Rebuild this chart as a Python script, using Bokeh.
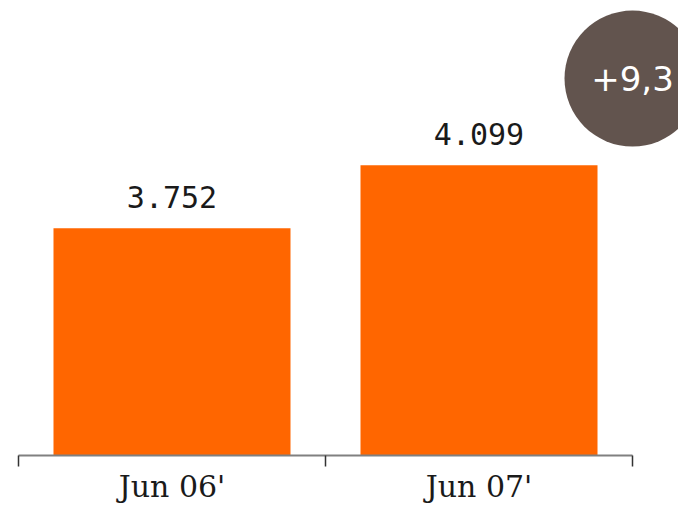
from bokeh.plotting import figure
from bokeh.models import Range1d, LinearAxis, FixedTicker
from bokeh.embed import file_html
from bokeh.resources import INLINE
from bokeh.core.properties import value

# ---- data ----
categories = ["Jun 06'", "Jun 07'"]
values = [3752, 4099]
value_labels = ["3.752", "4.099"]
change_label = "+9,3"

# ---- layout constants ----
Y0 = 2500
xs = [i + 0.5 for i in range(len(categories))]
bounds = list(range(len(categories) + 1))

p = figure(width=678, height=506,
           x_range=Range1d(-0.0586, 2.1498), y_range=Range1d(Y0, 5006),
           output_backend="svg", toolbar_location=None,
           x_axis_location=None, y_axis_location=None,
           min_border_left=0, min_border_right=0, min_border_top=0,
           min_border_bottom=51)
p.outline_line_color = None
p.xgrid.grid_line_color = None
p.ygrid.grid_line_color = None
p.background_fill_color = "white"
p.border_fill_color = "white"

# axis line with ticks at category boundaries
axis = LinearAxis(ticker=FixedTicker(ticks=bounds), bounds=(bounds[0], bounds[-1]),
                  major_label_overrides={b: "" for b in bounds},
                  major_label_text_font_size="0px", major_label_standoff=0,
                  major_tick_out=11, major_tick_in=0,
                  minor_tick_out=0, minor_tick_in=0,
                  axis_line_color="#808080", axis_line_width=2,
                  major_tick_line_color="#333333", major_tick_line_width=1.5)
p.add_layout(axis, "below")

# category labels at band centres
cat_axis = LinearAxis(ticker=FixedTicker(ticks=xs),
                      major_label_overrides={x: c for x, c in zip(xs, categories)},
                      major_label_text_font="DejaVu Serif",
                      major_label_text_font_size="30px",
                      major_label_text_color="#1a1a1a",
                      major_label_standoff=2,
                      major_tick_out=0, major_tick_in=0,
                      minor_tick_out=0, minor_tick_in=0,
                      axis_line_color=None)
p.add_layout(cat_axis, "below")

p.vbar(x=xs, width=0.772, bottom=Y0, top=values,
       fill_color="#ff6600", line_color=None)

p.text(x=xs, y=values, text=value_labels, text_align="center",
       text_baseline="alphabetic", y_offset=-31,
       text_font=value("DejaVu Sans Mono"), text_font_size="30px",
       text_color="#1a1a1a")

# change badge
p.scatter(x=[2.0], y=[4576], size=136, marker="circle",
          fill_color="#62544e", line_color=None)
p.text(x=[2.0], y=[4576], text=[change_label], text_align="center",
       text_baseline="middle", text_font=value("DejaVu Sans"),
       text_font_size="34px", text_color="white")

open("out.html", "w").write(file_html(p, INLINE))
